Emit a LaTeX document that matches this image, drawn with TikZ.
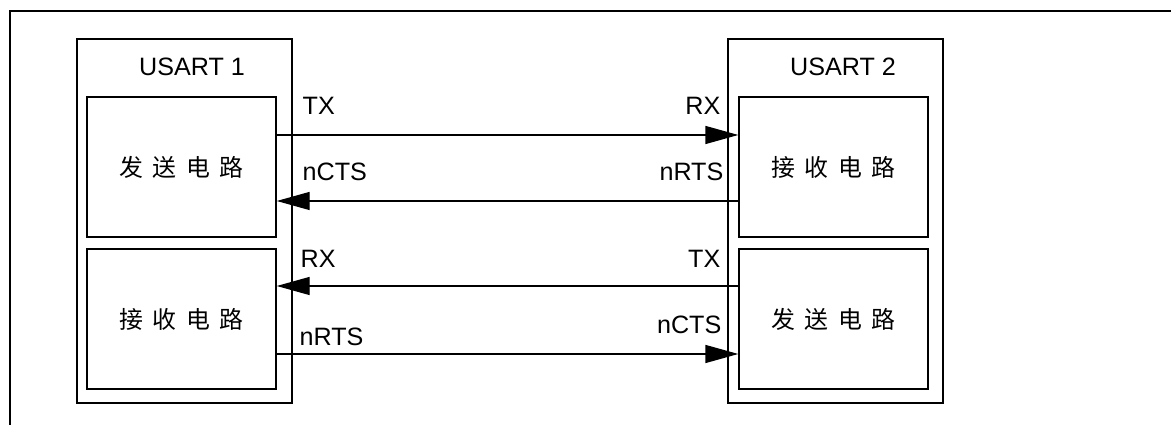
\documentclass[tikz,border=0pt]{standalone}
\usepackage{fontspec}
\setmainfont{Liberation Sans}
\newfontfamily\cjk[WordSpace=1.8]{Noto Sans CJK SC}
\usetikzlibrary{arrows.meta}
\tikzset{
  usartbox/.style={draw,minimum width=4.3cm,minimum height=7.28cm,inner sep=0pt},
  circbox/.style={draw,minimum width=3.78cm,minimum height=2.8cm,inner sep=0pt,font=\cjk\fontsize{13.6}{16}\selectfont},
  sig/.style={inner sep=0pt}
}
\begin{document}
\begin{tikzpicture}[x=1cm,y=1cm,>={Triangle[length=.66cm,width=.36cm]},line width=.8pt,font=\fontsize{14.3}{17}\selectfont]
  \useasboundingbox (0,0) rectangle (23.42,8.5);
  % frame
  \draw[line width=.6pt] (23.42,8.28)--(.2,8.28)--(.2,0);
  % USART 1
  \node[usartbox] (u1) at (3.69,4.08) {};
  \node[sig] (u1name) at (3.84,7.16) {USART 1};
  \node[circbox] (snd1) at (3.63,5.16) {发 送 电 路};
  \node[circbox] (rcv1) at (3.63,2.12) {接 收 电 路};
  % USART 2
  \node[usartbox] (u2) at (16.71,4.08) {};
  \node[sig] (u2name) at (16.86,7.16) {USART 2};
  \node[circbox] (rcv2) at (16.67,5.16) {接 收 电 路};
  \node[circbox] (snd2) at (16.67,2.12) {发 送 电 路};
  % signals
  \draw[->] ([yshift=.64cm]snd1.east)--([yshift=.64cm]rcv2.west);
  \draw[->] ([yshift=-.68cm]rcv2.west)--([yshift=-.68cm]snd1.east);
  \draw[->] ([yshift=.66cm]snd2.west)--([yshift=.66cm]rcv1.west-|rcv1.east);
  \draw[->] ([yshift=-.7cm]rcv1.east)--([yshift=-.7cm]snd2.west);
  \node[sig,anchor=west] (tx1) at (6.04,6.38) {TX};
  \node[sig,anchor=west] (cts1) at (6.04,5.06) {nCTS};
  \node[sig,anchor=west] (rx1) at (6.0,3.32) {RX};
  \node[sig,anchor=west] (rts1) at (5.98,1.76) {nRTS};
  \node[sig,anchor=east] (rx2) at (14.42,6.38) {RX};
  \node[sig,anchor=east] (rts2) at (14.48,5.06) {nRTS};
  \node[sig,anchor=east] (tx2) at (14.42,3.32) {TX};
  \node[sig,anchor=east] (cts2) at (14.44,2.0) {nCTS};
\end{tikzpicture}
\end{document}
